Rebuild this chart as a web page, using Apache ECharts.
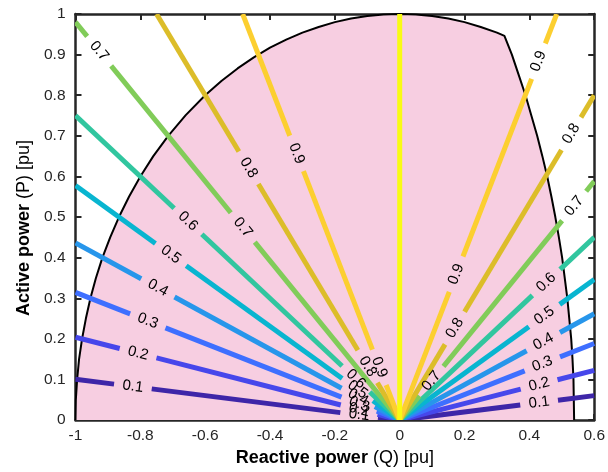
<!DOCTYPE html>
<html>
<head>
<meta charset="utf-8">
<script src="https://cdn.jsdelivr.net/npm/echarts@6/dist/echarts.min.js"></script>
<style>
  html, body { margin: 0; padding: 0; background: #fff; }
  #chart { width: 608px; height: 472px; }
</style>
</head>
<body>
<div id="chart"></div>
<script>
// Power-factor levels, drawn as rays from the origin on the leading (Q<0) and lagging (Q>0) side
const pfLevels = [0.1, 0.2, 0.3, 0.4, 0.5, 0.6, 0.7, 0.8, 0.9];
const unityPf = 1;
// Colour per level, last entry for unity power factor
const levelColors = ['#3E26A8', '#4747EB', '#3E6FFF', '#2796EB', '#08B5D0',
                     '#31C69F', '#81CC59', '#DCBD29', '#FCCF30', '#F9FB15'];

// Operating limit (capability) curve, reactive power Q and active power P in pu
const limitQ = [-1, -0.999, -0.995, -0.989, -0.98, -0.968, -0.954, -0.937, -0.917, -0.893,
                -0.866, -0.835, -0.8, -0.76, -0.714, -0.66, -0.6, -0.55, -0.5, -0.45,
                -0.4, -0.35, -0.3, -0.25, -0.2, -0.15, -0.1, -0.05, 0, 0.05,
                0.1, 0.15, 0.2, 0.25, 0.3, 0.323,
                0.346, 0.367, 0.388, 0.406, 0.424, 0.44, 0.455, 0.468, 0.48, 0.491,
                0.501, 0.509, 0.517, 0.523, 0.529, 0.533, 0.536, 0.537, 0.538];
const limitP = [0, 0.05, 0.1, 0.15, 0.199, 0.25, 0.3, 0.35, 0.4, 0.45,
                0.5, 0.55, 0.6, 0.65, 0.7, 0.751, 0.8, 0.835, 0.866, 0.893,
                0.917, 0.937, 0.954, 0.968, 0.98, 0.989, 0.995, 0.999, 1, 0.999,
                0.995, 0.989, 0.98, 0.968, 0.954, 0.946,
                0.9, 0.85, 0.8, 0.75, 0.7, 0.65, 0.6, 0.55, 0.5, 0.45,
                0.4, 0.35, 0.3, 0.25, 0.2, 0.15, 0.1, 0.05, 0];

// Axis ranges and tick steps
const qRange = [-1, 0.6];
const pRange = [0, 1];
const qStep = 0.2;
const pStep = 0.1;

// Where the in-line level labels sit on each ray (given as the Q coordinate along the ray)
const leftLabelAt = [[-0.823, -0.125], [-0.807, -0.125], [-0.777, -0.125], [-0.746, -0.128],
                     [-0.706, -0.13], [-0.653, -0.135], [-0.927, -0.484], [-0.466, -0.099],
                     [-0.318, -0.063]];
const rightLabelAt = [[0.43], [0.43], [0.44], [0.443], [0.446], [0.452],
                      [0.098, 0.538], [0.17, 0.529], [0.174, 0.428]];

const FONT = 'Liberation Sans, Arial, Helvetica, sans-serif';
const AXIS_COLOR = '#262626';
const RAY_WIDTH = 5;
const LABEL_GAP = 19;

// One entry per ray: [pf, side]
const rays = [];
pfLevels.forEach((pf, i) => {
  rays.push({ value: [pf, -1], color: levelColors[i], labels: leftLabelAt[i] });
  rays.push({ value: [pf, 1], color: levelColors[i], labels: rightLabelAt[i] });
});
rays.push({ value: [unityPf, 1], color: levelColors[9], labels: [] });

function renderRay(params, api) {
  const ray = rays[params.dataIndex];
  const pf = api.value(0);
  const side = api.value(1);
  const dq = side * Math.sqrt(Math.max(0, 1 - pf * pf));
  const dp = pf;
  const qLimit = side < 0 ? -qRange[0] : qRange[1];
  const reach = Math.min(dq === 0 ? Infinity : qLimit / Math.abs(dq), pRange[1] / dp);
  const a = api.coord([0, 0]);
  const b = api.coord([dq * reach, dp * reach]);
  const len = Math.hypot(b[0] - a[0], b[1] - a[1]);
  const ux = (b[0] - a[0]) / len, uy = (b[1] - a[1]) / len;

  const texts = [];
  const gaps = [];
  ray.labels.forEach(q => {
    const c = api.coord([q, q * dp / dq]);
    const d = (c[0] - a[0]) * ux + (c[1] - a[1]) * uy;
    gaps.push([d - LABEL_GAP, d + LABEL_GAP]);
    let vx = ux, vy = uy;
    if (vx < 0) { vx = -vx; vy = -vy; }
    texts.push({
      type: 'text', x: c[0], y: c[1], rotation: -Math.atan2(vy, vx), z2: 100,
      style: { text: String(pf), fill: '#000', fontSize: 15, fontFamily: FONT,
               align: 'center', verticalAlign: 'middle' }
    });
  });
  gaps.sort((g, h) => g[0] - h[0]);
  const segs = [];
  let s = 0;
  gaps.forEach(g => { if (g[0] > s) segs.push([s, g[0]]); s = Math.max(s, g[1]); });
  if (s < len) segs.push([s, len]);
  const lines = segs.map(([s0, s1]) => ({
    type: 'line', z2: 1,
    shape: { x1: a[0] + ux * s0, y1: a[1] + uy * s0, x2: a[0] + ux * s1, y2: a[1] + uy * s1 },
    style: { stroke: ray.color, lineWidth: RAY_WIDTH, lineCap: 'butt' }
  }));
  return { type: 'group', children: lines.concat(texts) };
}

const tickStyle = { inside: true, length: 6, lineStyle: { color: AXIS_COLOR, width: 2 } };
const lineStyleAxis = { onZero: false, lineStyle: { color: AXIS_COLOR, width: 2.5 } };
const labelStyle = { color: AXIS_COLOR, fontSize: 15.5, fontFamily: FONT };
const nameStyle = {
  color: '#000', fontSize: 18, fontFamily: FONT,
  rich: { b: { fontWeight: 'bold', fontSize: 18, fontFamily: FONT, color: '#000' } }
};

const option = {
  animation: false,
  backgroundColor: '#fff',
  grid: { left: 75.5, right: 13, top: 14, bottom: 49 },
  xAxis: [
    {
      type: 'value', min: qRange[0], max: qRange[1], interval: qStep, position: 'bottom',
      axisLine: lineStyleAxis, axisTick: tickStyle, splitLine: { show: false },
      axisLabel: Object.assign({ margin: 8 }, labelStyle),
      name: '{b|Reactive power} (Q) [pu]', nameLocation: 'middle', nameGap: 27,
      nameTextStyle: nameStyle
    },
    {
      type: 'value', min: qRange[0], max: qRange[1], interval: qStep, position: 'top',
      axisLine: lineStyleAxis, axisTick: tickStyle, splitLine: { show: false },
      axisLabel: { show: false }
    }
  ],
  yAxis: [
    {
      type: 'value', min: pRange[0], max: pRange[1], interval: pStep, position: 'left',
      axisLine: lineStyleAxis, axisTick: tickStyle, splitLine: { show: false },
      axisLabel: Object.assign({ margin: 10 }, labelStyle),
      name: '{b|Active power} (P) [pu]', nameLocation: 'middle', nameGap: 38, nameRotate: 90,
      nameTextStyle: Object.assign({ padding: [0, 22, 0, 0] }, nameStyle)
    },
    {
      type: 'value', min: pRange[0], max: pRange[1], interval: pStep, position: 'right',
      axisLine: lineStyleAxis, axisTick: tickStyle, splitLine: { show: false },
      axisLabel: { show: false }
    }
  ],
  series: [
    {
      name: 'limit',
      type: 'line',
      data: limitQ.map((q, i) => [q, limitP[i]]),
      showSymbol: false,
      lineStyle: { color: '#000', width: 2 },
      areaStyle: { color: '#F7CEE1', opacity: 1 },
      z: 1,
      silent: true
    },
    {
      name: 'pf',
      type: 'custom',
      renderItem: renderRay,
      data: rays.map(r => r.value),
      clip: true,
      z: 3,
      silent: true
    }
  ]
};

const chart = echarts.init(document.getElementById('chart'), null, { renderer: 'canvas' });
chart.setOption(option);
</script>
</body>
</html>
